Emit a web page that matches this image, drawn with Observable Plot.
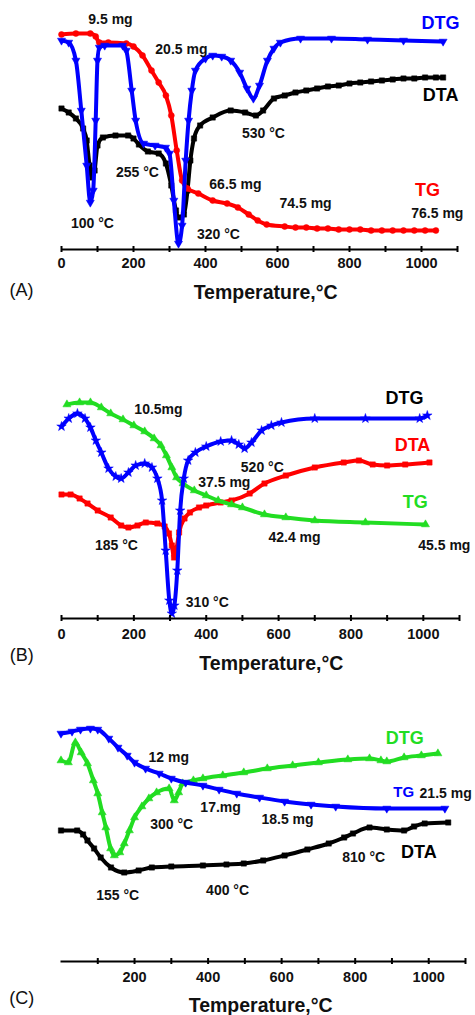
<!DOCTYPE html>
<html><head><meta charset="utf-8">
<script src="https://cdn.jsdelivr.net/npm/d3@7"></script>
<script src="https://cdn.jsdelivr.net/npm/@observablehq/plot@0.6"></script>
<style>
body{margin:0;background:#fff;}
#chart{width:475px;}
#chart svg{display:block;font-family:"Liberation Sans",Arial,Helvetica,sans-serif;}
</style></head><body><div id="chart"></div>
<script>
// ---------- Panel A ----------
const tA_DTG = [0,20,40,55,70,80,88,95,100,105,120,170,180,195,206,228,260,289,300,312,325,335,345,353,362,372,400,420,445,470,495,515,533,550,572,590,608,664,750,850,950,1060];
const vA_DTG = [209,207,189,139,84,47,59,129,189,202,204,204,199,159,129,106,104,102,96,49,6,24,89,129,159,179,191,194,193,189,177,161,151,164,189,201,207,211,211,210,209,208];
const tA_TG = [0,40,80,95,105,130,180,200,225,250,270,290,305,320,335,350,380,420,460,490,520,545,570,620,650,680,710,740,770,800,830,860,890,920,950,980,1010,1040];
const vA_TG = [215,216,216,213,207,207,206,203,194,179,167,154,134,99,69,61,56,49,46,42,35,29,25,23,22,22,21,21,20,20,20,19,19,19,19,19,19,19];
const tA_DTA = [0,20,40,60,70,78,85,92,100,115,150,185,200,215,240,270,290,305,318,325,340,350,358,368,385,420,470,510,540,560,590,620,650,680,710,740,770,800,830,860,890,920,950,980,1010,1040,1060];
const vA_DTA = [141,137,131,121,109,84,72,79,104,112,114,114,111,105,98,96,86,64,39,32,35,59,89,111,124,132,139,137,134,139,151,154,157,159,161,163,164,166,167,168,169,170,171,171,172,172,172];
const notesA = [
  {text:"9.5 mg", x:136, y:230}, {text:"20.5 mg", x:333, y:200},
  {text:"530 °C", x:561, y:116}, {text:"255 °C", x:211, y:77},
  {text:"100 °C", x:86, y:26}, {text:"320 °C", x:436, y:15},
  {text:"66.5 mg", x:483, y:65}, {text:"74.5 mg", x:678, y:46},
  {text:"76.5 mg", x:1044, y:36}
];
const namesA = [
  {text:"DTG", x:1053, y:226, c:"#0000ff"},
  {text:"DTA", x:1053, y:154, c:"#000000"},
  {text:"TG", x:1017, y:59, c:"#ff0000"}
];

// ---------- Panel B ----------
const tB_DTG = [0,20,44,65,80,95,110,130,150,165,185,205,230,250,265,278,288,298,305,312,320,328,338,350,370,400,440,470,490,506,525,553,580,608,700,840,990,1011];
const vB_DTG = [192,200,205,200,191,178,166,150,142,140,146,153,155,151,140,118,68,18,5,13,48,108,140,158,166,172,177,178,174,170,176,188,193,196,200,200,200,203];
const tB_TG = [15,50,80,110,136,170,200,230,256,275,290,305,318,336,367,400,433,470,500,561,620,700,840,1006];
const vB_TG = [214,216,216,211,205,199,193,187,180,173,163,151,141,135,128,123,118,114,111,104,101,98,96,94];
const tB_DTA = [0,25,50,72,100,136,165,185,210,233,265,285,297,305,311,318,325,340,355,380,400,440,470,520,561,620,700,780,822,860,900,950,1017];
const vB_DTA = [124,124,120,115,108,101,93,91,93,96,95,92,85,73,61,70,86,100,106,111,113,116,118,125,135,143,151,156,158,154,153,154,156];
const notesB = [
  {text:"10.5mg", x:268, y:209}, {text:"520 °C", x:555, y:151},
  {text:"37.5 mg", x:450, y:136}, {text:"185 °C", x:152, y:73},
  {text:"42.4 mg", x:644, y:81}, {text:"45.5 mg", x:1058, y:73},
  {text:"310 °C", x:403, y:16}
];
const namesB = [
  {text:"DTG", x:948, y:220, c:"#000000"},
  {text:"DTA", x:970, y:173, c:"#ff0000"},
  {text:"TG", x:978, y:116, c:"#22dd22"}
];

// ---------- Panel C ----------
const tC_TG = [0,30,53,80,100,130,155,180,200,230,267,300,339,386,430,478,540,608,680,747,886,1044];
const vC_TG = [228,230,232,233,232,223,214,206,199,193,188,183,179,176,172,168,164,160,157,155,153,153];
const tC_DTG = [0,20,39,55,72,88,100,112,122,135,145,160,172,186,200,220,239,260,294,308,320,331,360,386,440,497,561,630,700,780,839,870,886,933,980,1025];
const vC_DTG = [201,199,219,209,198,181,168,149,134,113,106,109,118,131,144,155,163,169,173,161,169,178,181,183,186,189,193,196,199,202,203,201,200,204,206,208];
const tC_DTA = [0,44,60,72,90,108,136,172,211,247,300,386,450,497,550,608,670,728,770,794,839,886,933,960,989,1053];
const vC_DTA = [131,131,127,121,113,104,94,89,91,94,95,96,97,98,101,106,112,118,124,128,134,132,131,135,138,139];
const notesC = [
  {text:"12 mg", x:293, y:204}, {text:"17.mg", x:434, y:154},
  {text:"300 °C", x:301, y:137}, {text:"21.5 mg", x:1046, y:168},
  {text:"18.5 mg", x:616, y:142}, {text:"810 °C", x:823, y:104},
  {text:"155 °C", x:154, y:66}, {text:"400 °C", x:453, y:71}
];
const namesC = [
  {text:"DTG", x:935, y:223, c:"#22dd22", s:18},
  {text:"TG", x:932, y:169, c:"#0000ff", s:15},
  {text:"DTA", x:973, y:109, c:"#000000", s:18}
];

const tickLabelsAB = [0,200,400,600,800,1000];
const tickLabelsC = [200,400,600,800,1000];
const ticksAB = [0,100,200,300,400,500,600,700,800,900,1000,1100];
const ticksC = [100,200,300,400,500,600,700,800,900,1000,1100];

const zip = (t, v) => t.map((x, i) => ({t: x, v: v[i]}));

function curve(data, color, symbol, rotate) {
  return [
    Plot.line(data, {x:"t", y:"v", stroke:color, strokeWidth:4, curve:"monotone-x"}),
    Plot.dot(data, {x:"t", y:"v", symbol, r:3, fill:color, stroke:color, strokeWidth:0.5, rotate})
  ];
}

function panel(o) {
  return Plot.plot({
    width: 475, height: o.height,
    marginTop: 0, marginBottom: o.height - o.top, marginLeft: o.ml, marginRight: o.mr,
    x: {domain:[0,1100], axis:null},
    y: {domain:[0,o.top], axis:null},
    marks: [
      ...o.curves,
      Plot.ruleY([0], {x1:0, x2:1100, stroke:"#000", strokeWidth:2}),
      Plot.ruleX(o.ticks, {x:d=>d, y1:-3, y2:3, stroke:"#000", strokeWidth:2}),
      Plot.text(o.labels, {x:d=>d, y:0, dy:o.pad, text:d=>String(d), fontSize:14.5, fontWeight:"bold", fill:"#111", lineAnchor:"middle"}),
      Plot.text([o.title], {x:d=>d.x, y:d=>d.y, text:()=>"Temperature,°C", fontSize:19.5, fontWeight:"bold", fill:"#111"}),
      Plot.text([o.tag], {x:d=>d.x, y:d=>d.y, text:d=>d.text, fontSize:18, fill:"#111"}),
      Plot.text(o.notes, {x:"x", y:"y", text:"text", fontSize:14, fontWeight:"bold", fill:"#111"}),
      Plot.text(o.names, {x:"x", y:"y", text:"text", fill:d=>d.c, fontSize:d=>d.s ?? 18, fontWeight:"bold"})
    ]
  });
}

const blue = "#0000ff", red = "#ff0000", green = "#22dd22", black = "#000000";

const A = panel({
  height:304, top:249, ml:61, mr:18, pad:14,
  ticks:ticksAB, labels:tickLabelsAB,
  title:{x:567, y:-43}, tag:{text:"(A)", x:-111, y:-41},
  notes:notesA, names:namesA,
  curves:[
    ...curve(zip(tA_DTA, vA_DTA), black, "square", 0),
    ...curve(zip(tA_TG, vA_TG), red, "circle", 0),
    ...curve(zip(tA_DTG, vA_DTG), blue, "triangle", 180)
  ]
});
const B = panel({
  height:371, top:314, ml:61, mr:16, pad:16,
  ticks:ticksAB, labels:tickLabelsAB,
  title:{x:580, y:-45}, tag:{text:"(B)", x:-110, y:-37},
  notes:notesB, names:namesB,
  curves:[
    ...curve(zip(tB_DTA, vB_DTA), red, "square", 0),
    ...curve(zip(tB_TG, vB_TG), green, "triangle", 0),
    ...curve(zip(tB_DTG, vB_DTG), blue, "star", 0)
  ]
});
const C = panel({
  height:340, top:286, ml:60.5, mr:10, pad:15.5,
  ticks:ticksC, labels:tickLabelsC,
  title:{x:543, y:-44}, tag:{text:"(C)", x:-107, y:-37},
  notes:notesC, names:namesC,
  curves:[
    ...curve(zip(tC_DTA, vC_DTA), black, "square", 0),
    ...curve(zip(tC_DTG, vC_DTG), green, "triangle", 0),
    ...curve(zip(tC_TG, vC_TG), blue, "triangle", 180)
  ]
});
const el = document.getElementById("chart");
el.append(A, B, C);
</script></body></html>
